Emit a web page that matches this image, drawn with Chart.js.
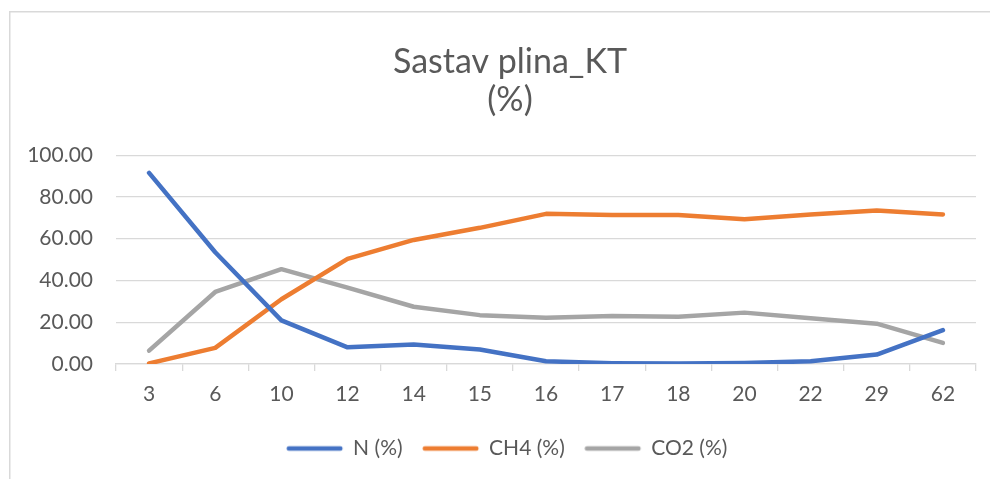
<!DOCTYPE html>
<html>
<head>
<meta charset="utf-8">
<script src="https://cdn.jsdelivr.net/npm/chart.js@4.4.1/dist/chart.umd.min.js"></script>
<style>
  html, body { margin: 0; padding: 0; background: #ffffff; overflow: hidden; }
  #wrap { position: relative; width: 990px; height: 479px; overflow: hidden; }
</style>
</head>
<body>
<div id="wrap"><canvas id="c" width="1020" height="479"></canvas></div>
<script>
const categories = ['3', '6', '10', '12', '14', '15', '16', '17', '18', '20', '22', '29', '62'];
const nValues   = [91.5, 53.5, 20.9, 8.0, 9.3, 6.9, 1.3, 0.4, 0.2, 0.5, 1.3, 4.5, 16.2];
const ch4Values = [0.3, 7.7, 31.0, 50.3, 59.4, 65.2, 71.9, 71.3, 71.3, 69.3, 71.6, 73.5, 71.6];
const co2Values = [6.4, 34.5, 45.4, 36.6, 27.4, 23.4, 22.1, 23.0, 22.6, 24.6, 21.9, 19.3, 10.1];
const seriesNames = ['N (%)', 'CH4 (%)', 'CO2 (%)'];
const titleLines = ['Sastav plina_KT', '(%)'];

const FONT = 'Lato, "Open Sans", "Liberation Sans", sans-serif';
const TXT = '#595959';
const GRID = '#d9d9d9';
const LW = 4.5;

const frame = {
  id: 'frame',
  beforeDraw(chart) {
    const ctx = chart.ctx;
    ctx.save();
    ctx.fillStyle = '#ffffff';
    ctx.fillRect(0, 0, chart.width, chart.height);
    ctx.strokeStyle = GRID;
    ctx.lineWidth = 1.5;
    ctx.beginPath();
    ctx.moveTo(9.75, chart.height);
    ctx.lineTo(9.75, 11.75);
    ctx.lineTo(chart.width, 11.75);
    ctx.stroke();
    ctx.restore();
  }
};

// legend swatch: 56px line sitting at the right of a 63px image (box width 50)
function swatch(color) {
  const cv = document.createElement('canvas');
  cv.width = 63; cv.height = 8;
  const g = cv.getContext('2d');
  g.strokeStyle = color;
  g.lineWidth = LW;
  g.lineCap = 'round';
  g.beginPath();
  g.moveTo(0.5 + LW / 2, 4);
  g.lineTo(56.5 - LW / 2, 4);
  g.stroke();
  return cv;
}

function ds(label, data, color) {
  return {
    label, data,
    borderColor: color, backgroundColor: color,
    borderWidth: LW, pointRadius: 0, pointHoverRadius: 0,
    tension: 0, borderCapStyle: 'round', borderJoinStyle: 'round',
    pointStyle: swatch(color)
  };
}

new Chart(document.getElementById('c'), {
  type: 'line',
  data: {
    labels: categories,
    datasets: [
      ds(seriesNames[0], nValues, '#4472C4'),
      ds(seriesNames[1], ch4Values, '#ED7D31'),
      ds(seriesNames[2], co2Values, '#A5A5A5')
    ]
  },
  options: {
    responsive: false,
    animation: false,
    devicePixelRatio: 1,
    layout: { padding: { left: 0, right: 0, top: 0, bottom: 10 } },
    plugins: {
      tooltip: { enabled: false },
      title: {
        display: true,
        text: titleLines,
        color: TXT,
        font: { family: FONT, size: 34, weight: 'normal', lineHeight: 1.12 },
        padding: { top: 43, bottom: 36 }
      },
      legend: {
        position: 'bottom',
        labels: {
          usePointStyle: true,
          pointStyleWidth: 50,
          color: TXT,
          font: { family: FONT, size: 21 },
          padding: 26
        }
      }
    },
    scales: {
      x: {
        offset: true,
        grid: { offset: true, drawOnChartArea: false, drawTicks: true, tickLength: 7, color: GRID, lineWidth: 1.3 },
        border: { display: true, color: GRID, width: 1.3 },
        ticks: { color: TXT, font: { family: FONT, size: 21 }, padding: 11, maxRotation: 0, autoSkip: false },
        afterFit(scale) { scale.height = 48; }
      },
      y: {
        min: 0, max: 100,
        grid: { color: GRID, lineWidth: 1.3, drawTicks: false },
        border: { display: false },
        ticks: { stepSize: 20, color: TXT, font: { family: FONT, size: 21 }, padding: 23,
                 callback: v => Number(v).toFixed(2) },
        afterFit(scale) { scale.width = 116; }
      },
      yRight: {
        position: 'right',
        min: 0, max: 1,
        grid: { display: false, drawTicks: false },
        border: { display: false },
        ticks: { display: false },
        afterFit(scale) { scale.width = 44; }
      }
    }
  },
  plugins: [frame]
});
</script>
</body>
</html>
